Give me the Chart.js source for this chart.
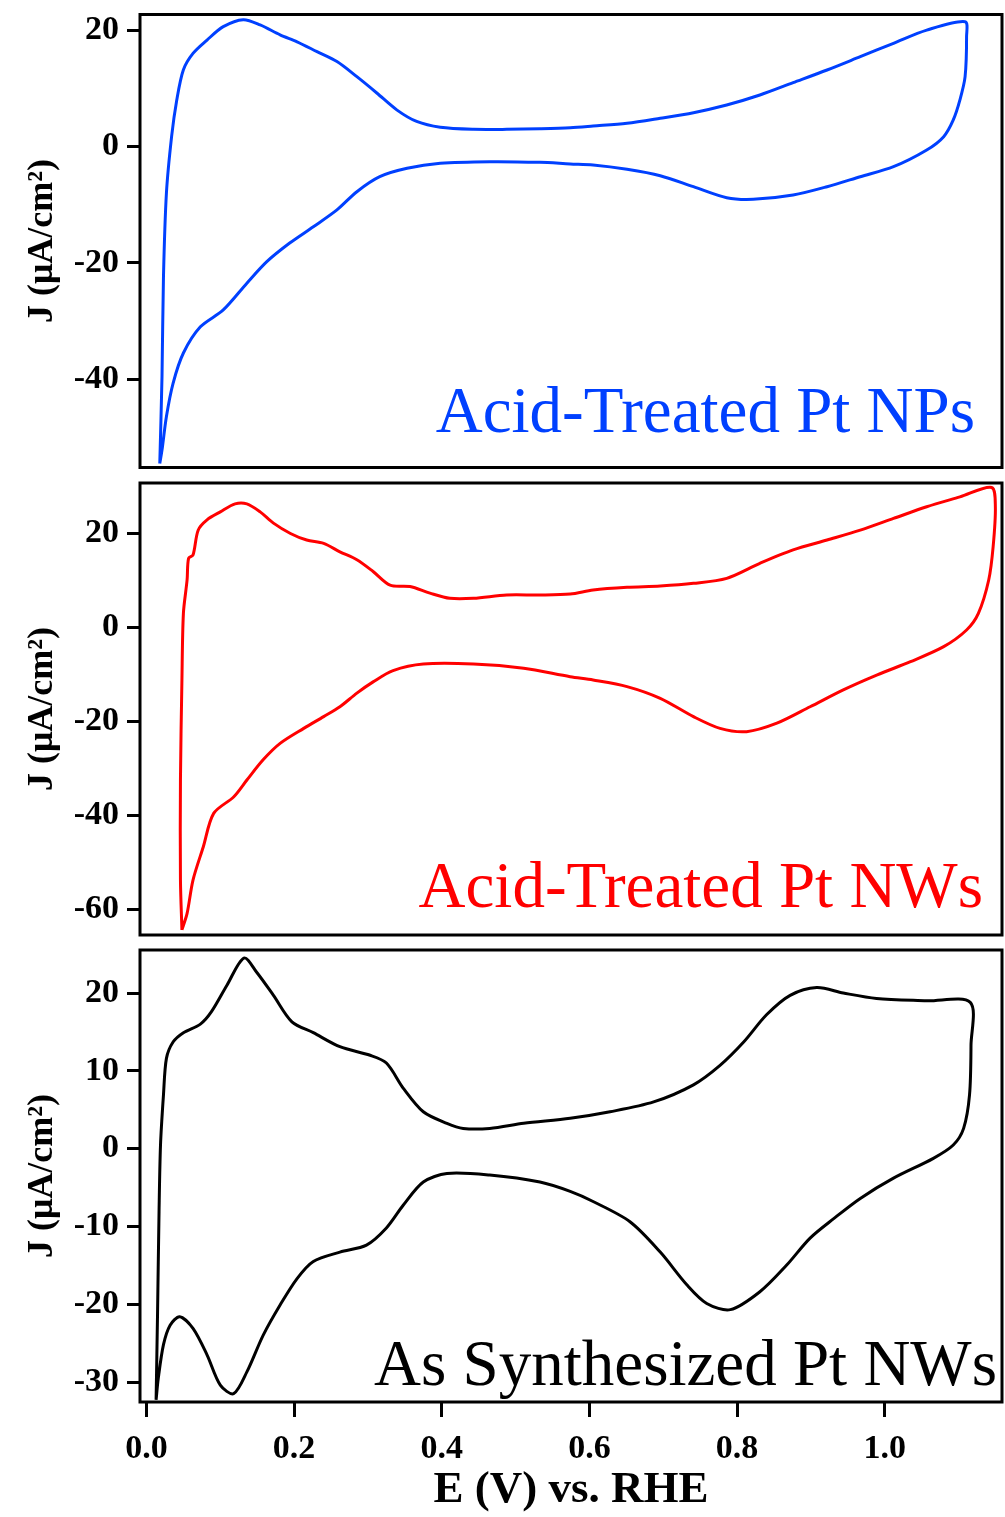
<!DOCTYPE html>
<html lang="en">
<head>
<meta charset="UTF-8">
<title>Cyclic voltammograms</title>
<style>
  body { margin: 0; background: #fff; }
  canvas { position: absolute; left: 0; }
</style>
</head>
<body>
<canvas id="c1" width="1005" height="475" style="top:0px"></canvas>
<canvas id="c2" width="1005" height="475" style="top:475px"></canvas>
<canvas id="c3" width="1005" height="572" style="top:945px"></canvas>

<script src="https://cdn.jsdelivr.net/npm/chart.js"></script>
<script>
// acid-treated Pt NPs (blue), one closed sweep: anodic then cathodic
const npE = [0.018,0.021,0.023,0.027,0.034,0.041,0.050,0.063,0.082,0.104,0.131,0.154,0.181,0.204,0.231,0.258,0.285,0.312,0.339,0.366,0.398,0.443,0.488,0.533,0.574,0.605,0.651,0.696,0.741,0.786,0.831,0.876,0.922,0.967,1.012,1.057,1.109,
  1.111,1.109,1.102,1.093,1.080,1.057,1.012,0.967,0.922,0.876,0.822,0.786,0.741,0.696,0.651,0.605,0.574,0.533,0.465,0.398,0.353,0.316,0.285,0.258,0.226,0.194,0.163,0.136,0.104,0.073,0.050,0.036,0.027,0.021,0.018]
const npJ = [-54.5,-39.6,-22.4,-8.0,1.7,8.0,13.2,16.0,18.3,20.6,21.8,20.9,19.2,18.0,16.3,14.6,12.0,9.2,6.3,4.3,3.3,2.95,2.95,3.06,3.23,3.52,3.99,4.85,5.81,7.13,8.85,10.97,13.15,15.44,17.74,20.0,21.45,
  18.9,12.0,8.0,4.56,1.69,-0.6,-3.47,-5.19,-6.91,-8.34,-9.08,-8.8,-6.91,-5.02,-3.92,-3.18,-3.0,-2.72,-2.61,-2.89,-3.75,-5.19,-7.77,-10.9,-13.8,-16.6,-19.8,-23.5,-28.1,-31.0,-35.5,-40.7,-46.4,-52.2,-54.5]

// acid-treated Pt NWs (red)
const atE = [0.048,0.046,0.046,0.048,0.050,0.055,0.057,0.063,0.070,0.082,0.100,0.120,0.136,0.154,0.172,0.195,0.217,0.240,0.262,0.285,0.307,0.330,0.357,0.384,0.411,0.443,0.488,0.533,0.574,0.605,0.651,0.696,0.741,0.786,0.831,0.876,0.922,0.967,1.012,1.057,1.102,1.145,
  1.150,1.147,1.141,1.127,1.111,1.080,1.035,0.990,0.944,0.899,0.854,0.813,0.777,0.741,0.696,0.651,0.605,0.574,0.511,0.443,0.375,0.334,0.307,0.285,0.262,0.240,0.213,0.181,0.158,0.136,0.118,0.091,0.077,0.063,0.055,0.048]
const atJ = [-64.4,-53.8,-32.5,-11.2,3.0,10.1,14.7,15.4,20.7,22.9,24.6,26.3,26.3,24.6,22.2,20.0,18.6,17.9,16.1,14.4,11.9,9.0,8.7,7.3,6.2,6.2,6.9,6.9,7.1,7.96,8.53,8.8,9.38,10.45,13.65,16.5,18.6,20.7,23.2,25.7,27.8,29.8,
  25.7,17.2,10.1,3.0,-0.55,-4.1,-7.3,-10.1,-13.3,-16.9,-20.4,-22.2,-21.5,-19.0,-15.1,-12.6,-11.2,-10.5,-8.7,-7.8,-7.8,-9.2,-11.6,-14.0,-16.9,-19.0,-21.5,-24.7,-28.2,-32.5,-36.1,-39.6,-46.7,-53.8,-60.9,-64.4]

// as synthesized Pt NWs (black)
const asE = [0.013,0.015,0.017,0.019,0.023,0.027,0.036,0.050,0.073,0.088,0.109,0.132,0.149,0.172,0.197,0.226,0.262,0.303,0.325,0.348,0.375,0.407,0.429,0.465,0.511,0.574,0.628,0.687,0.741,0.777,0.809,0.840,0.872,0.908,0.944,0.989,1.057,1.116,
  1.117,1.115,1.107,1.093,1.066,1.012,0.967,0.931,0.899,0.867,0.831,0.791,0.759,0.732,0.696,0.655,0.605,0.574,0.533,0.465,0.407,0.375,0.348,0.325,0.298,0.262,0.226,0.204,0.181,0.158,0.136,0.118,0.100,0.082,0.063,0.045,0.032,0.023,0.016,0.013]
const asJ = [-32.3,-21.0,-8.1,0.5,6.9,11.6,13.7,14.9,16.0,17.6,21.0,24.5,22.7,19.7,16.3,14.9,13.1,12.0,11.0,7.75,4.74,3.25,2.6,2.6,3.25,3.9,4.74,6.0,8.2,10.7,13.7,17.2,19.7,20.7,20.0,19.3,19.0,18.8,
  13.3,6.9,2.6,0.46,-1.25,-3.8,-6.4,-9.0,-11.5,-15.0,-18.4,-20.7,-19.9,-17.5,-13.3,-9.4,-6.8,-5.5,-4.3,-3.4,-3.2,-4.3,-7.25,-10.2,-12.4,-13.3,-14.5,-16.7,-20.1,-24.0,-28.7,-31.5,-30.4,-26.5,-23.1,-21.6,-22.7,-25.2,-29.5,-32.3]

const xTicks = [0, 0.2, 0.4, 0.6, 0.8, 1.0]
const npTicks = [20, 0, -20, -40]
const atTicks = [20, 0, -20, -40, -60]
const asTicks = [20, 10, 0, -10, -20, -30]

const serif = "'Liberation Serif', 'Times New Roman', serif"

// frame round the plot area + the sample name in the corner
const boxAndLabel = {
  id: 'boxAndLabel',
  afterDatasetsDraw(chart, args, opts) {
    const {ctx, chartArea: a} = chart
    ctx.save()
    ctx.lineWidth = 3
    ctx.strokeStyle = '#000'
    ctx.strokeRect(a.left, a.top, a.right - a.left, a.bottom - a.top)
    ctx.font = '65px ' + serif
    ctx.fillStyle = opts.color
    ctx.textAlign = 'right'
    ctx.textBaseline = 'alphabetic'
    ctx.fillText(opts.text, a.right - opts.dx, a.bottom - opts.dy)
    ctx.restore()
  }
}

function panel(id, E, J, color, yMin, yMax, yTicks, label, pad, showX) {
  const pts = E.map((e, i) => ({x: e, y: J[i]}))
  const xScale = {
    type: 'linear', min: -0.0088, max: 1.159, display: showX,
    afterBuildTicks: s => { s.ticks = xTicks.map(v => ({value: v})) },
    grid: {drawOnChartArea: false, drawTicks: true, tickLength: 15, tickWidth: 3, tickColor: '#000'},
    border: {display: false},
    ticks: {color: '#000', padding: 12, maxRotation: 0, font: {family: serif, size: 34, weight: 'bold'},
      callback: v => v.toFixed(1)},
    title: {display: true, text: 'E (V) vs. RHE', color: '#000', padding: {top: 0, bottom: 0},
      font: {family: serif, size: 45, weight: 'bold'}}
  }
  if (showX) xScale.afterFit = s => { s.height = 115; s.paddingLeft = 0; s.paddingRight = 0 }

  new Chart(document.getElementById(id), {
    type: 'scatter',
    data: {datasets: [{data: pts, showLine: true, borderColor: color, borderWidth: 3,
      pointRadius: 0, tension: 0.3, fill: false}]},
    options: {
      responsive: false,
      animation: false,
      layout: {padding: pad},
      plugins: {
        legend: {display: false},
        tooltip: {enabled: false},
        boxAndLabel: label
      },
      scales: {
        x: xScale,
        y: {
          min: yMin, max: yMax,
          afterBuildTicks: s => { s.ticks = yTicks.map(v => ({value: v})) },
          afterFit: s => { s.width = 140; s.paddingTop = 0; s.paddingBottom = 0 },
          grid: {drawOnChartArea: false, drawTicks: true, tickLength: 13, tickWidth: 3, tickColor: '#000'},
          border: {display: false},
          ticks: {color: '#000', padding: 8, font: {family: serif, size: 34, weight: 'bold'},
            callback: v => String(v)},
          title: {display: true, text: 'J (μA/cm²)', color: '#000', padding: {top: 21, bottom: 0},
            font: {family: serif, size: 36, weight: 'bold'}}
        }
      }
    },
    plugins: [boxAndLabel]
  })
}

panel('c1', npE, npJ, '#0040ff', -55.18, 22.69, npTicks,
  {text: 'Acid-Treated Pt NPs', color: '#0040ff', dx: 27, dy: 36},
  {top: 14.5, bottom: 7.5, left: 0, right: 3}, false)
panel('c2', atE, atJ, '#ff0000', -65.5, 30.75, atTicks,
  {text: 'Acid-Treated Pt NWs', color: '#ff0000', dx: 19, dy: 28},
  {top: 8, bottom: 15, left: 0, right: 3}, false)
panel('c3', asE, asJ, '#000000', -32.57, 25.53, asTicks,
  {text: 'As Synthesized Pt NWs', color: '#000000', dx: 5, dy: 17},
  {top: 5, bottom: 0, left: 0, right: 3}, true)
</script>
</body>
</html>
